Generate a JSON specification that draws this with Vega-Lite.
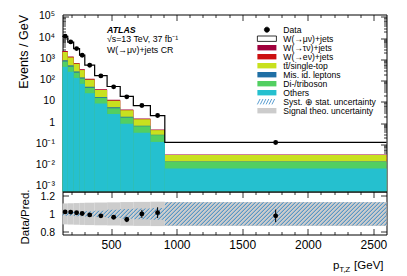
{
"$schema":"https://vega.github.io/schema/vega-lite/v6.json",
"padding":{"left":16.5,"top":9.5,"right":2,"bottom":2},
"config":{"view":{"stroke":"#000","strokeWidth":1},"font":"Liberation Sans",
"axis":{"grid":false,"domain":false,"tickColor":"#000","tickWidth":0.8,"labelColor":"#000","titleColor":"#000","labelFont":"Liberation Sans","titleFont":"Liberation Sans","titleFontWeight":"normal"},
"text":{"font":"Liberation Sans","color":"#000"}},
"datasets":{
"bins":[
{"lo":130,"hi":170,"ctr":150,"data":12360,"dlo":12261,"dhi":12459,"ratio":1.022,"rlo":1.014,"rhi":1.030,"tLo":0.883,"tHi":1.117},
{"lo":170,"hi":215,"ctr":192.5,"data":6670,"dlo":6617,"dhi":6723,"ratio":1.020,"rlo":1.012,"rhi":1.028,"tLo":0.881,"tHi":1.119},
{"lo":215,"hi":260,"ctr":237.5,"data":3220,"dlo":3194,"dhi":3246,"ratio":1.012,"rlo":1.004,"rhi":1.020,"tLo":0.879,"tHi":1.121},
{"lo":260,"hi":300,"ctr":280,"data":1578,"dlo":1562,"dhi":1594,"ratio":1.004,"rlo":0.994,"rhi":1.014,"tLo":0.877,"tHi":1.123},
{"lo":300,"hi":375,"ctr":337.5,"data":533,"dlo":527,"dhi":539,"ratio":0.989,"rlo":0.977,"rhi":1.001,"tLo":0.875,"tHi":1.125},
{"lo":375,"hi":470,"ctr":422.5,"data":167,"dlo":164.5,"dhi":169.5,"ratio":0.978,"rlo":0.963,"rhi":0.993,"tLo":0.873,"tHi":1.127},
{"lo":470,"hi":570,"ctr":520,"data":50.8,"dlo":49.8,"dhi":51.8,"ratio":0.963,"rlo":0.943,"rhi":0.983,"tLo":0.871,"tHi":1.129},
{"lo":570,"hi":670,"ctr":620,"data":17.2,"dlo":16.7,"dhi":17.7,"ratio":0.938,"rlo":0.908,"rhi":0.968,"tLo":0.868,"tHi":1.132},
{"lo":670,"hi":800,"ctr":735,"data":6.7,"dlo":6.4,"dhi":7.0,"ratio":1.0,"rlo":0.955,"rhi":1.045,"tLo":0.866,"tHi":1.134},
{"lo":800,"hi":910,"ctr":855,"data":2.26,"dlo":2.12,"dhi":2.4,"ratio":1.014,"rlo":0.954,"rhi":1.074,"tLo":0.864,"tHi":1.136},
{"lo":910,"hi":2600,"ctr":1755,"data":0.122,"dlo":0.113,"dhi":0.131,"ratio":0.978,"rlo":0.908,"rhi":1.048,"tLo":0.866,"tHi":1.134}
],
"edges":[
{"x":130,"pred":12094,"sLo":0.98,"sHi":1.02},
{"x":170,"pred":6539,"sLo":0.98,"sHi":1.02},
{"x":215,"pred":3182,"sLo":0.975,"sHi":1.025},
{"x":260,"pred":1572,"sLo":0.975,"sHi":1.025},
{"x":300,"pred":539,"sLo":0.97,"sHi":1.03},
{"x":375,"pred":170.8,"sLo":0.965,"sHi":1.035},
{"x":470,"pred":52.8,"sLo":0.955,"sHi":1.045},
{"x":570,"pred":18.3,"sLo":0.945,"sHi":1.055},
{"x":670,"pred":6.7,"sLo":0.94,"sHi":1.06},
{"x":800,"pred":2.23,"sLo":0.935,"sHi":1.065},
{"x":910,"pred":0.1247,"sLo":0.87,"sHi":1.13},
{"x":2600,"pred":0.1247,"sLo":0.87,"sHi":1.13}
],
"stack":[
{"comp":"tau","lo":130,"hi":170,"top":2478},{"comp":"tau","lo":170,"hi":215,"top":1373},{"comp":"tau","lo":215,"hi":260,"top":684},{"comp":"tau","lo":260,"hi":300,"top":346},{"comp":"tau","lo":300,"hi":375,"top":122},{"comp":"tau","lo":375,"hi":470,"top":39.3},{"comp":"tau","lo":470,"hi":570,"top":12.4},{"comp":"tau","lo":570,"hi":670,"top":4.42},{"comp":"tau","lo":670,"hi":800,"top":1.64},{"comp":"tau","lo":800,"hi":910,"top":0.497},{"comp":"tau","lo":910,"hi":2600,"top":0.0331},
{"comp":"e","lo":130,"hi":170,"top":2321},{"comp":"e","lo":170,"hi":215,"top":1288},{"comp":"e","lo":215,"hi":260,"top":636},{"comp":"e","lo":260,"hi":300,"top":322},{"comp":"e","lo":300,"hi":375,"top":114},{"comp":"e","lo":375,"hi":470,"top":36.8},{"comp":"e","lo":470,"hi":570,"top":11.6},{"comp":"e","lo":570,"hi":670,"top":4.14},{"comp":"e","lo":670,"hi":800,"top":1.55},{"comp":"e","lo":800,"hi":910,"top":0.475},{"comp":"e","lo":910,"hi":2600,"top":0.0315},
{"comp":"tt","lo":130,"hi":170,"top":2249},{"comp":"tt","lo":170,"hi":215,"top":1243},{"comp":"tt","lo":215,"hi":260,"top":620},{"comp":"tt","lo":260,"hi":300,"top":314},{"comp":"tt","lo":300,"hi":375,"top":111},{"comp":"tt","lo":375,"hi":470,"top":35.9},{"comp":"tt","lo":470,"hi":570,"top":11.4},{"comp":"tt","lo":570,"hi":670,"top":4.05},{"comp":"tt","lo":670,"hi":800,"top":1.5},{"comp":"tt","lo":800,"hi":910,"top":0.466},{"comp":"tt","lo":910,"hi":2600,"top":0.031},
{"comp":"misid","lo":130,"hi":170,"top":907},{"comp":"misid","lo":170,"hi":215,"top":523},{"comp":"misid","lo":215,"hi":260,"top":270},{"comp":"misid","lo":260,"hi":300,"top":141},{"comp":"misid","lo":300,"hi":375,"top":51.4},{"comp":"misid","lo":375,"hi":470,"top":17.1},{"comp":"misid","lo":470,"hi":570,"top":5.55},{"comp":"misid","lo":570,"hi":670,"top":1.99},{"comp":"misid","lo":670,"hi":800,"top":0.753},{"comp":"misid","lo":800,"hi":910,"top":0.282},{"comp":"misid","lo":910,"hi":2600,"top":0.0156},
{"comp":"di","lo":130,"hi":170,"top":786},{"comp":"di","lo":170,"hi":215,"top":458},{"comp":"di","lo":215,"hi":260,"top":239},{"comp":"di","lo":260,"hi":300,"top":126},{"comp":"di","lo":300,"hi":375,"top":46},{"comp":"di","lo":375,"hi":470,"top":15.4},{"comp":"di","lo":470,"hi":570,"top":5.03},{"comp":"di","lo":570,"hi":670,"top":1.84},{"comp":"di","lo":670,"hi":800,"top":0.719},{"comp":"di","lo":800,"hi":910,"top":0.271},{"comp":"di","lo":910,"hi":2600,"top":0.015},
{"comp":"oth","lo":130,"hi":170,"top":447},{"comp":"oth","lo":170,"hi":215,"top":262},{"comp":"oth","lo":215,"hi":260,"top":134},{"comp":"oth","lo":260,"hi":300,"top":70.7},{"comp":"oth","lo":300,"hi":375,"top":25.4},{"comp":"oth","lo":375,"hi":470,"top":8.38},{"comp":"oth","lo":470,"hi":570,"top":2.65},{"comp":"oth","lo":570,"hi":670,"top":0.94},{"comp":"oth","lo":670,"hi":800,"top":0.349},{"comp":"oth","lo":800,"hi":910,"top":0.13},{"comp":"oth","lo":910,"hi":2600,"top":0.00725}
],
"legend":[{"item":"Data"},{"item":"W(→μν)+jets"},{"item":"W(→τν)+jets"},{"item":"W(→eν)+jets"},{"item":"tt\u0304/single-top"},{"item":"Mis. id. leptons"},{"item":"Di-/triboson"},{"item":"Others"},{"item":"Syst. ⊕ stat. uncertainty"},{"item":"Signal theo. uncertainty"}],
"one":[{"n":1}]
},
"spacing":0,
"bounds":"flush",
"resolve":{"scale":{"x":"independent","y":"independent","color":"independent","fill":"independent","shape":"independent","stroke":"independent"},"axis":{"x":"independent","y":"independent"}},
"vconcat":[
{"width":324,"height":177,
"resolve":{"axis":{"x":"independent","y":"independent"}},
"layer":[
{"data":{"name":"stack"},"mark":{"type":"rect"},
"encoding":{
"x":{"field":"lo","type":"quantitative","scale":{"domain":[130,2600],"nice":false,"zero":false},"axis":{"orient":"bottom","values":[500,1000,1500,2000,2500],"labels":false,"tickSize":-6,"title":null,"minExtent":0,"maxExtent":0}},
"x2":{"field":"hi"},
"y":{"field":"top","type":"quantitative","scale":{"type":"log","domain":[0.0006,130000],"nice":false},"axis":{"orient":"left","values":[0.001,0.01,0.1,1,10,100,1000,10000,100000],"tickSize":-6,"labelPadding":14,"labelFontSize":10.5,"labelOffset":-1,"labelExpr":"datum.value < 0.005 ? '10⁻³' : datum.value < 0.05 ? '10⁻²' : datum.value < 0.5 ? '10⁻¹' : datum.value < 5 ? '1' : datum.value < 50 ? '10' : datum.value < 500 ? '10²' : datum.value < 5000 ? '10³' : datum.value < 50000 ? '10⁴' : '10⁵'","title":"Events / GeV","titleFontSize":12.5,"titleAnchor":"end","titleX":-32}},
"y2":{"datum":0.0006},
"fill":{"field":"comp","type":"nominal","scale":{"domain":["tau","e","tt","misid","di","oth"],"range":["#a0003c","#cc1010","#c8e11e","#1f6fa5","#52cf61","#25c0cf"]},"legend":null}
}},
{"data":{"name":"edges"},"mark":{"type":"line","interpolate":"step-after","color":"#000","strokeWidth":1.2},
"encoding":{
"x":{"field":"x","type":"quantitative","axis":{"orient":"bottom","values":[200,300,400,600,700,800,900,1100,1200,1300,1400,1600,1700,1800,1900,2100,2200,2300,2400],"labels":false,"tickSize":-3,"title":null,"minExtent":0,"maxExtent":0}},
"y":{"field":"pred","type":"quantitative","axis":{"orient":"left","values":[0.0007,0.0008,0.0009,0.002,0.003,0.004,0.005,0.006,0.007,0.008,0.009,0.02,0.03,0.04,0.05,0.06,0.07,0.08,0.09,0.2,0.3,0.4,0.5,0.6,0.7,0.8,0.9,2,3,4,5,6,7,8,9,20,30,40,50,60,70,80,90,200,300,400,500,600,700,800,900,2000,3000,4000,5000,6000,7000,8000,9000,20000,30000,40000,50000,60000,70000,80000,90000],"labels":false,"tickSize":-3,"title":null,"minExtent":0,"maxExtent":0}}
}},
{"data":{"name":"bins"},"mark":{"type":"rule","color":"#000","strokeWidth":1},
"encoding":{
"x":{"field":"ctr","type":"quantitative","axis":{"orient":"top","values":[500,1000,1500,2000,2500],"labels":false,"tickSize":-6,"title":null,"minExtent":0,"maxExtent":0}},
"y":{"field":"dlo","type":"quantitative","axis":{"orient":"right","values":[0.001,0.01,0.1,1,10,100,1000,10000,100000],"labels":false,"tickSize":-6,"title":null,"minExtent":0,"maxExtent":0}},
"y2":{"field":"dhi"}
}},
{"data":{"name":"bins"},"mark":{"type":"point","filled":true,"color":"#000","opacity":1,"size":24},
"encoding":{
"x":{"field":"ctr","type":"quantitative","axis":{"orient":"top","values":[200,300,400,600,700,800,900,1100,1200,1300,1400,1600,1700,1800,1900,2100,2200,2300,2400],"labels":false,"tickSize":-3,"title":null,"minExtent":0,"maxExtent":0}},
"y":{"field":"data","type":"quantitative","axis":{"orient":"right","values":[0.0007,0.0008,0.0009,0.002,0.003,0.004,0.005,0.006,0.007,0.008,0.009,0.02,0.03,0.04,0.05,0.06,0.07,0.08,0.09,0.2,0.3,0.4,0.5,0.6,0.7,0.8,0.9,2,3,4,5,6,7,8,9,20,30,40,50,60,70,80,90,200,300,400,500,600,700,800,900,2000,3000,4000,5000,6000,7000,8000,9000,20000,30000,40000,50000,60000,70000,80000,90000],"labels":false,"tickSize":-3,"title":null,"minExtent":0,"maxExtent":0}}
}},
{"data":{"name":"legend"},"mark":{"type":"point","filled":true,"opacity":1,"clip":true,"size":1},
"encoding":{
"x":{"datum":99999,"type":"quantitative","axis":null},
"y":{"datum":1,"type":"quantitative","axis":null},
"color":{"field":"item","type":"nominal","scale":{"domain":["Data","W(→μν)+jets","W(→τν)+jets","W(→eν)+jets","tt\u0304/single-top","Mis. id. leptons","Di-/triboson","Others","Syst. ⊕ stat. uncertainty","Signal theo. uncertainty"],"range":["#000000","#ffffff","#a0003c","#cc1010","#c8e11e","#1f6fa5","#52cf61","#25c0cf","rgba(0,0,0,0)","#cccccc"]},"legend":{"title":null,"orient":"none","legendX":200.1,"legendY":10.9,"labelFontSize":8.6,"labelFont":"Liberation Sans","labelColor":"#000","symbolSize":36,"symbolStrokeWidth":0.8,"rowPadding":-3.9,"labelOffset":12.1,"padding":0,"labelLimit":300}},
"shape":{"field":"item","type":"nominal","scale":{"domain":["Data","W(→μν)+jets","W(→τν)+jets","W(→eν)+jets","tt\u0304/single-top","Mis. id. leptons","Di-/triboson","Others","Syst. ⊕ stat. uncertainty","Signal theo. uncertainty"],"range":["M0.85,0A0.85,0.85 0 1,1 -0.85,0A0.85,0.85 0 1,1 0.85,0Z","M-3.17,-0.9H3.17V0.9H-3.17Z","M-3.17,-0.9H3.17V0.9H-3.17Z","M-3.17,-0.9H3.17V0.9H-3.17Z","M-3.17,-0.9H3.17V0.9H-3.17Z","M-3.17,-0.9H3.17V0.9H-3.17Z","M-3.17,-0.9H3.17V0.9H-3.17Z","M-3.17,-0.9H3.17V0.9H-3.17Z","M-3.17,0.9L-2.27,-0.9M-2.2,0.9L-1.3,-0.9M-1.23,0.9L-0.33,-0.9M-0.26,0.9L0.64,-0.9M0.71,0.9L1.61,-0.9M1.68,0.9L2.58,-0.9","M-3.17,-0.9H3.17V0.9H-3.17Z"]},"legend":{"title":null,"orient":"none","legendX":200.1,"legendY":10.9,"labelFontSize":8.6,"labelFont":"Liberation Sans","labelColor":"#000","symbolSize":36,"symbolStrokeWidth":0.8,"rowPadding":-3.9,"labelOffset":12.1,"padding":0,"labelLimit":300}},
"stroke":{"field":"item","type":"nominal","scale":{"domain":["Data","W(→μν)+jets","W(→τν)+jets","W(→eν)+jets","tt\u0304/single-top","Mis. id. leptons","Di-/triboson","Others","Syst. ⊕ stat. uncertainty","Signal theo. uncertainty"],"range":["#000000","#000000","rgba(0,0,0,0)","rgba(0,0,0,0)","rgba(0,0,0,0)","rgba(0,0,0,0)","rgba(0,0,0,0)","rgba(0,0,0,0)","#2f84c4","rgba(0,0,0,0)"]},"legend":{"title":null,"orient":"none","legendX":200.1,"legendY":10.9,"labelFontSize":8.6,"labelFont":"Liberation Sans","labelColor":"#000","symbolSize":36,"symbolStrokeWidth":0.8,"rowPadding":-3.9,"labelOffset":12.1,"padding":0,"labelLimit":300}}
}},
{"data":{"name":"one"},"mark":{"type":"text","text":"ATLAS","fontWeight":"bold","fontStyle":"italic","fontSize":8.8,"align":"left","baseline":"alphabetic"},
"encoding":{"x":{"datum":469,"type":"quantitative","axis":null},"y":{"datum":17490,"type":"quantitative","axis":null}}},
{"data":{"name":"one"},"mark":{"type":"text","text":"√s=13 TeV, 37 fb⁻¹","fontSize":8.8,"align":"left","baseline":"alphabetic"},
"encoding":{"x":{"datum":469,"type":"quantitative","axis":null},"y":{"datum":6400,"type":"quantitative","axis":null}}},
{"data":{"name":"one"},"mark":{"type":"text","text":"W(→μν)+jets CR","fontSize":8.8,"align":"left","baseline":"alphabetic"},
"encoding":{"x":{"datum":469,"type":"quantitative","axis":null},"y":{"datum":2050,"type":"quantitative","axis":null}}}
]},
{"width":324,"height":43,
"resolve":{"axis":{"x":"independent","y":"independent"}},
"layer":[
{"data":{"name":"bins"},"mark":{"type":"rect","color":"#cccccc"},
"encoding":{
"x":{"field":"lo","type":"quantitative","scale":{"domain":[130,2600],"nice":false,"zero":false},"axis":{"orient":"bottom","values":[500,1000,1500,2000,2500],"format":"d","tickSize":-6,"labelPadding":10.5,"labelFontSize":12,"title":null}},
"x2":{"field":"hi"},
"y":{"field":"tLo","type":"quantitative","scale":{"domain":[0.77,1.25],"nice":false,"zero":false},"axis":{"orient":"left","values":[0.8,1,1.2],"tickSize":-6,"labelPadding":14,"labelFontSize":10.5,"labelOffset":1,"labelExpr":"datum.value == 1 ? '1' : format(datum.value, '.1f')","title":"Data/Pred.","titleFontSize":11.5,"titleX":-32,"titleY":25,"titleAnchor":"middle"}},
"y2":{"field":"tHi"}
}},
{"data":{"name":"edges"},"mark":{"type":"area","interpolate":"step-after","fill":{"gradient":"linear","x1":0,"y1":0,"x2":1.2282,"y2":0.0883,"stops":[
{"offset":0,"color":"rgba(47,132,196,0)"},{"offset":0.0025,"color":"#2f84c4"},{"offset":0.005,"color":"rgba(47,132,196,0)"},
{"offset":0.01,"color":"rgba(47,132,196,0)"},{"offset":0.0125,"color":"#2f84c4"},{"offset":0.015,"color":"rgba(47,132,196,0)"},
{"offset":0.02,"color":"rgba(47,132,196,0)"},{"offset":0.0225,"color":"#2f84c4"},{"offset":0.025,"color":"rgba(47,132,196,0)"},
{"offset":0.03,"color":"rgba(47,132,196,0)"},{"offset":0.0325,"color":"#2f84c4"},{"offset":0.035,"color":"rgba(47,132,196,0)"},
{"offset":0.04,"color":"rgba(47,132,196,0)"},{"offset":0.0425,"color":"#2f84c4"},{"offset":0.045,"color":"rgba(47,132,196,0)"},
{"offset":0.05,"color":"rgba(47,132,196,0)"},{"offset":0.0525,"color":"#2f84c4"},{"offset":0.055,"color":"rgba(47,132,196,0)"},
{"offset":0.06,"color":"rgba(47,132,196,0)"},{"offset":0.0625,"color":"#2f84c4"},{"offset":0.065,"color":"rgba(47,132,196,0)"},
{"offset":0.07,"color":"rgba(47,132,196,0)"},{"offset":0.0725,"color":"#2f84c4"},{"offset":0.075,"color":"rgba(47,132,196,0)"},
{"offset":0.08,"color":"rgba(47,132,196,0)"},{"offset":0.0825,"color":"#2f84c4"},{"offset":0.085,"color":"rgba(47,132,196,0)"},
{"offset":0.09,"color":"rgba(47,132,196,0)"},{"offset":0.0925,"color":"#2f84c4"},{"offset":0.095,"color":"rgba(47,132,196,0)"},
{"offset":0.10,"color":"rgba(47,132,196,0)"},{"offset":0.1025,"color":"#2f84c4"},{"offset":0.105,"color":"rgba(47,132,196,0)"},
{"offset":0.11,"color":"rgba(47,132,196,0)"},{"offset":0.1125,"color":"#2f84c4"},{"offset":0.115,"color":"rgba(47,132,196,0)"},
{"offset":0.12,"color":"rgba(47,132,196,0)"},{"offset":0.1225,"color":"#2f84c4"},{"offset":0.125,"color":"rgba(47,132,196,0)"},
{"offset":0.13,"color":"rgba(47,132,196,0)"},{"offset":0.1325,"color":"#2f84c4"},{"offset":0.135,"color":"rgba(47,132,196,0)"},
{"offset":0.14,"color":"rgba(47,132,196,0)"},{"offset":0.1425,"color":"#2f84c4"},{"offset":0.145,"color":"rgba(47,132,196,0)"},
{"offset":0.15,"color":"rgba(47,132,196,0)"},{"offset":0.1525,"color":"#2f84c4"},{"offset":0.155,"color":"rgba(47,132,196,0)"},
{"offset":0.16,"color":"rgba(47,132,196,0)"},{"offset":0.1625,"color":"#2f84c4"},{"offset":0.165,"color":"rgba(47,132,196,0)"},
{"offset":0.17,"color":"rgba(47,132,196,0)"},{"offset":0.1725,"color":"#2f84c4"},{"offset":0.175,"color":"rgba(47,132,196,0)"},
{"offset":0.18,"color":"rgba(47,132,196,0)"},{"offset":0.1825,"color":"#2f84c4"},{"offset":0.185,"color":"rgba(47,132,196,0)"},
{"offset":0.19,"color":"rgba(47,132,196,0)"},{"offset":0.1925,"color":"#2f84c4"},{"offset":0.195,"color":"rgba(47,132,196,0)"},
{"offset":0.20,"color":"rgba(47,132,196,0)"},{"offset":0.2025,"color":"#2f84c4"},{"offset":0.205,"color":"rgba(47,132,196,0)"},
{"offset":0.21,"color":"rgba(47,132,196,0)"},{"offset":0.2125,"color":"#2f84c4"},{"offset":0.215,"color":"rgba(47,132,196,0)"},
{"offset":0.22,"color":"rgba(47,132,196,0)"},{"offset":0.2225,"color":"#2f84c4"},{"offset":0.225,"color":"rgba(47,132,196,0)"},
{"offset":0.23,"color":"rgba(47,132,196,0)"},{"offset":0.2325,"color":"#2f84c4"},{"offset":0.235,"color":"rgba(47,132,196,0)"},
{"offset":0.24,"color":"rgba(47,132,196,0)"},{"offset":0.2425,"color":"#2f84c4"},{"offset":0.245,"color":"rgba(47,132,196,0)"},
{"offset":0.25,"color":"rgba(47,132,196,0)"},{"offset":0.2525,"color":"#2f84c4"},{"offset":0.255,"color":"rgba(47,132,196,0)"},
{"offset":0.26,"color":"rgba(47,132,196,0)"},{"offset":0.2625,"color":"#2f84c4"},{"offset":0.265,"color":"rgba(47,132,196,0)"},
{"offset":0.27,"color":"rgba(47,132,196,0)"},{"offset":0.2725,"color":"#2f84c4"},{"offset":0.275,"color":"rgba(47,132,196,0)"},
{"offset":0.28,"color":"rgba(47,132,196,0)"},{"offset":0.2825,"color":"#2f84c4"},{"offset":0.285,"color":"rgba(47,132,196,0)"},
{"offset":0.29,"color":"rgba(47,132,196,0)"},{"offset":0.2925,"color":"#2f84c4"},{"offset":0.295,"color":"rgba(47,132,196,0)"},
{"offset":0.30,"color":"rgba(47,132,196,0)"},{"offset":0.3025,"color":"#2f84c4"},{"offset":0.305,"color":"rgba(47,132,196,0)"},
{"offset":0.31,"color":"rgba(47,132,196,0)"},{"offset":0.3125,"color":"#2f84c4"},{"offset":0.315,"color":"rgba(47,132,196,0)"},
{"offset":0.32,"color":"rgba(47,132,196,0)"},{"offset":0.3225,"color":"#2f84c4"},{"offset":0.325,"color":"rgba(47,132,196,0)"},
{"offset":0.33,"color":"rgba(47,132,196,0)"},{"offset":0.3325,"color":"#2f84c4"},{"offset":0.335,"color":"rgba(47,132,196,0)"},
{"offset":0.34,"color":"rgba(47,132,196,0)"},{"offset":0.3425,"color":"#2f84c4"},{"offset":0.345,"color":"rgba(47,132,196,0)"},
{"offset":0.35,"color":"rgba(47,132,196,0)"},{"offset":0.3525,"color":"#2f84c4"},{"offset":0.355,"color":"rgba(47,132,196,0)"},
{"offset":0.36,"color":"rgba(47,132,196,0)"},{"offset":0.3625,"color":"#2f84c4"},{"offset":0.365,"color":"rgba(47,132,196,0)"},
{"offset":0.37,"color":"rgba(47,132,196,0)"},{"offset":0.3725,"color":"#2f84c4"},{"offset":0.375,"color":"rgba(47,132,196,0)"},
{"offset":0.38,"color":"rgba(47,132,196,0)"},{"offset":0.3825,"color":"#2f84c4"},{"offset":0.385,"color":"rgba(47,132,196,0)"},
{"offset":0.39,"color":"rgba(47,132,196,0)"},{"offset":0.3925,"color":"#2f84c4"},{"offset":0.395,"color":"rgba(47,132,196,0)"},
{"offset":0.40,"color":"rgba(47,132,196,0)"},{"offset":0.4025,"color":"#2f84c4"},{"offset":0.405,"color":"rgba(47,132,196,0)"},
{"offset":0.41,"color":"rgba(47,132,196,0)"},{"offset":0.4125,"color":"#2f84c4"},{"offset":0.415,"color":"rgba(47,132,196,0)"},
{"offset":0.42,"color":"rgba(47,132,196,0)"},{"offset":0.4225,"color":"#2f84c4"},{"offset":0.425,"color":"rgba(47,132,196,0)"},
{"offset":0.43,"color":"rgba(47,132,196,0)"},{"offset":0.4325,"color":"#2f84c4"},{"offset":0.435,"color":"rgba(47,132,196,0)"},
{"offset":0.44,"color":"rgba(47,132,196,0)"},{"offset":0.4425,"color":"#2f84c4"},{"offset":0.445,"color":"rgba(47,132,196,0)"},
{"offset":0.45,"color":"rgba(47,132,196,0)"},{"offset":0.4525,"color":"#2f84c4"},{"offset":0.455,"color":"rgba(47,132,196,0)"},
{"offset":0.46,"color":"rgba(47,132,196,0)"},{"offset":0.4625,"color":"#2f84c4"},{"offset":0.465,"color":"rgba(47,132,196,0)"},
{"offset":0.47,"color":"rgba(47,132,196,0)"},{"offset":0.4725,"color":"#2f84c4"},{"offset":0.475,"color":"rgba(47,132,196,0)"},
{"offset":0.48,"color":"rgba(47,132,196,0)"},{"offset":0.4825,"color":"#2f84c4"},{"offset":0.485,"color":"rgba(47,132,196,0)"},
{"offset":0.49,"color":"rgba(47,132,196,0)"},{"offset":0.4925,"color":"#2f84c4"},{"offset":0.495,"color":"rgba(47,132,196,0)"},
{"offset":0.50,"color":"rgba(47,132,196,0)"},{"offset":0.5025,"color":"#2f84c4"},{"offset":0.505,"color":"rgba(47,132,196,0)"},
{"offset":0.51,"color":"rgba(47,132,196,0)"},{"offset":0.5125,"color":"#2f84c4"},{"offset":0.515,"color":"rgba(47,132,196,0)"},
{"offset":0.52,"color":"rgba(47,132,196,0)"},{"offset":0.5225,"color":"#2f84c4"},{"offset":0.525,"color":"rgba(47,132,196,0)"},
{"offset":0.53,"color":"rgba(47,132,196,0)"},{"offset":0.5325,"color":"#2f84c4"},{"offset":0.535,"color":"rgba(47,132,196,0)"},
{"offset":0.54,"color":"rgba(47,132,196,0)"},{"offset":0.5425,"color":"#2f84c4"},{"offset":0.545,"color":"rgba(47,132,196,0)"},
{"offset":0.55,"color":"rgba(47,132,196,0)"},{"offset":0.5525,"color":"#2f84c4"},{"offset":0.555,"color":"rgba(47,132,196,0)"},
{"offset":0.56,"color":"rgba(47,132,196,0)"},{"offset":0.5625,"color":"#2f84c4"},{"offset":0.565,"color":"rgba(47,132,196,0)"},
{"offset":0.57,"color":"rgba(47,132,196,0)"},{"offset":0.5725,"color":"#2f84c4"},{"offset":0.575,"color":"rgba(47,132,196,0)"},
{"offset":0.58,"color":"rgba(47,132,196,0)"},{"offset":0.5825,"color":"#2f84c4"},{"offset":0.585,"color":"rgba(47,132,196,0)"},
{"offset":0.59,"color":"rgba(47,132,196,0)"},{"offset":0.5925,"color":"#2f84c4"},{"offset":0.595,"color":"rgba(47,132,196,0)"},
{"offset":0.60,"color":"rgba(47,132,196,0)"},{"offset":0.6025,"color":"#2f84c4"},{"offset":0.605,"color":"rgba(47,132,196,0)"},
{"offset":0.61,"color":"rgba(47,132,196,0)"},{"offset":0.6125,"color":"#2f84c4"},{"offset":0.615,"color":"rgba(47,132,196,0)"},
{"offset":0.62,"color":"rgba(47,132,196,0)"},{"offset":0.6225,"color":"#2f84c4"},{"offset":0.625,"color":"rgba(47,132,196,0)"},
{"offset":0.63,"color":"rgba(47,132,196,0)"},{"offset":0.6325,"color":"#2f84c4"},{"offset":0.635,"color":"rgba(47,132,196,0)"},
{"offset":0.64,"color":"rgba(47,132,196,0)"},{"offset":0.6425,"color":"#2f84c4"},{"offset":0.645,"color":"rgba(47,132,196,0)"},
{"offset":0.65,"color":"rgba(47,132,196,0)"},{"offset":0.6525,"color":"#2f84c4"},{"offset":0.655,"color":"rgba(47,132,196,0)"},
{"offset":0.66,"color":"rgba(47,132,196,0)"},{"offset":0.6625,"color":"#2f84c4"},{"offset":0.665,"color":"rgba(47,132,196,0)"},
{"offset":0.67,"color":"rgba(47,132,196,0)"},{"offset":0.6725,"color":"#2f84c4"},{"offset":0.675,"color":"rgba(47,132,196,0)"},
{"offset":0.68,"color":"rgba(47,132,196,0)"},{"offset":0.6825,"color":"#2f84c4"},{"offset":0.685,"color":"rgba(47,132,196,0)"},
{"offset":0.69,"color":"rgba(47,132,196,0)"},{"offset":0.6925,"color":"#2f84c4"},{"offset":0.695,"color":"rgba(47,132,196,0)"},
{"offset":0.70,"color":"rgba(47,132,196,0)"},{"offset":0.7025,"color":"#2f84c4"},{"offset":0.705,"color":"rgba(47,132,196,0)"},
{"offset":0.71,"color":"rgba(47,132,196,0)"},{"offset":0.7125,"color":"#2f84c4"},{"offset":0.715,"color":"rgba(47,132,196,0)"},
{"offset":0.72,"color":"rgba(47,132,196,0)"},{"offset":0.7225,"color":"#2f84c4"},{"offset":0.725,"color":"rgba(47,132,196,0)"},
{"offset":0.73,"color":"rgba(47,132,196,0)"},{"offset":0.7325,"color":"#2f84c4"},{"offset":0.735,"color":"rgba(47,132,196,0)"},
{"offset":0.74,"color":"rgba(47,132,196,0)"},{"offset":0.7425,"color":"#2f84c4"},{"offset":0.745,"color":"rgba(47,132,196,0)"},
{"offset":0.75,"color":"rgba(47,132,196,0)"},{"offset":0.7525,"color":"#2f84c4"},{"offset":0.755,"color":"rgba(47,132,196,0)"},
{"offset":0.76,"color":"rgba(47,132,196,0)"},{"offset":0.7625,"color":"#2f84c4"},{"offset":0.765,"color":"rgba(47,132,196,0)"},
{"offset":0.77,"color":"rgba(47,132,196,0)"},{"offset":0.7725,"color":"#2f84c4"},{"offset":0.775,"color":"rgba(47,132,196,0)"},
{"offset":0.78,"color":"rgba(47,132,196,0)"},{"offset":0.7825,"color":"#2f84c4"},{"offset":0.785,"color":"rgba(47,132,196,0)"},
{"offset":0.79,"color":"rgba(47,132,196,0)"},{"offset":0.7925,"color":"#2f84c4"},{"offset":0.795,"color":"rgba(47,132,196,0)"},
{"offset":0.80,"color":"rgba(47,132,196,0)"},{"offset":0.8025,"color":"#2f84c4"},{"offset":0.805,"color":"rgba(47,132,196,0)"},
{"offset":0.81,"color":"rgba(47,132,196,0)"},{"offset":0.8125,"color":"#2f84c4"},{"offset":0.815,"color":"rgba(47,132,196,0)"},
{"offset":0.82,"color":"rgba(47,132,196,0)"},{"offset":0.8225,"color":"#2f84c4"},{"offset":0.825,"color":"rgba(47,132,196,0)"},
{"offset":0.83,"color":"rgba(47,132,196,0)"},{"offset":0.8325,"color":"#2f84c4"},{"offset":0.835,"color":"rgba(47,132,196,0)"},
{"offset":0.84,"color":"rgba(47,132,196,0)"},{"offset":0.8425,"color":"#2f84c4"},{"offset":0.845,"color":"rgba(47,132,196,0)"},
{"offset":0.85,"color":"rgba(47,132,196,0)"},{"offset":0.8525,"color":"#2f84c4"},{"offset":0.855,"color":"rgba(47,132,196,0)"},
{"offset":0.86,"color":"rgba(47,132,196,0)"},{"offset":0.8625,"color":"#2f84c4"},{"offset":0.865,"color":"rgba(47,132,196,0)"},
{"offset":0.87,"color":"rgba(47,132,196,0)"},{"offset":0.8725,"color":"#2f84c4"},{"offset":0.875,"color":"rgba(47,132,196,0)"}
]}},
"encoding":{
"x":{"field":"x","type":"quantitative","axis":{"orient":"bottom","values":[200,300,400,600,700,800,900,1100,1200,1300,1400,1600,1700,1800,1900,2100,2200,2300,2400],"labels":false,"tickSize":-3,"title":null,"minExtent":0,"maxExtent":0}},
"y":{"field":"sLo","type":"quantitative","axis":{"orient":"left","values":[0.9,1.1],"labels":false,"tickSize":-3,"title":null,"minExtent":0,"maxExtent":0}},
"y2":{"field":"sHi"}
}},
{"data":{"name":"bins"},"mark":{"type":"rule","color":"#000","strokeWidth":1},
"encoding":{
"x":{"field":"ctr","type":"quantitative","axis":{"orient":"top","values":[500,1000,1500,2000,2500],"labels":false,"tickSize":-6,"title":null,"minExtent":0,"maxExtent":0}},
"y":{"field":"rlo","type":"quantitative","axis":{"orient":"right","values":[0.8,1,1.2],"labels":false,"tickSize":-6,"title":null,"minExtent":0,"maxExtent":0}},
"y2":{"field":"rhi"}
}},
{"data":{"name":"bins"},"mark":{"type":"point","filled":true,"color":"#000","opacity":1,"size":24},
"encoding":{
"x":{"field":"ctr","type":"quantitative","axis":{"orient":"top","values":[200,300,400,600,700,800,900,1100,1200,1300,1400,1600,1700,1800,1900,2100,2200,2300,2400],"labels":false,"tickSize":-3,"title":null,"minExtent":0,"maxExtent":0}},
"y":{"field":"ratio","type":"quantitative","axis":{"orient":"right","values":[0.9,1.1],"labels":false,"tickSize":-3,"title":null,"minExtent":0,"maxExtent":0}}
}},
{"data":{"name":"one"},"mark":{"type":"text","text":"p","fontSize":11.5,"align":"left","baseline":"alphabetic"},
"encoding":{"x":{"datum":2193,"type":"quantitative","axis":null},"y":{"datum":0.39,"type":"quantitative","axis":null}}},
{"data":{"name":"one"},"mark":{"type":"text","text":"T,Z","fontSize":8,"align":"left","baseline":"alphabetic"},
"encoding":{"x":{"datum":2239,"type":"quantitative","axis":null},"y":{"datum":0.346,"type":"quantitative","axis":null}}},
{"data":{"name":"one"},"mark":{"type":"text","text":"[GeV]","fontSize":11.5,"align":"left","baseline":"alphabetic"},
"encoding":{"x":{"datum":2353,"type":"quantitative","axis":null},"y":{"datum":0.39,"type":"quantitative","axis":null}}}
]}
]
}
